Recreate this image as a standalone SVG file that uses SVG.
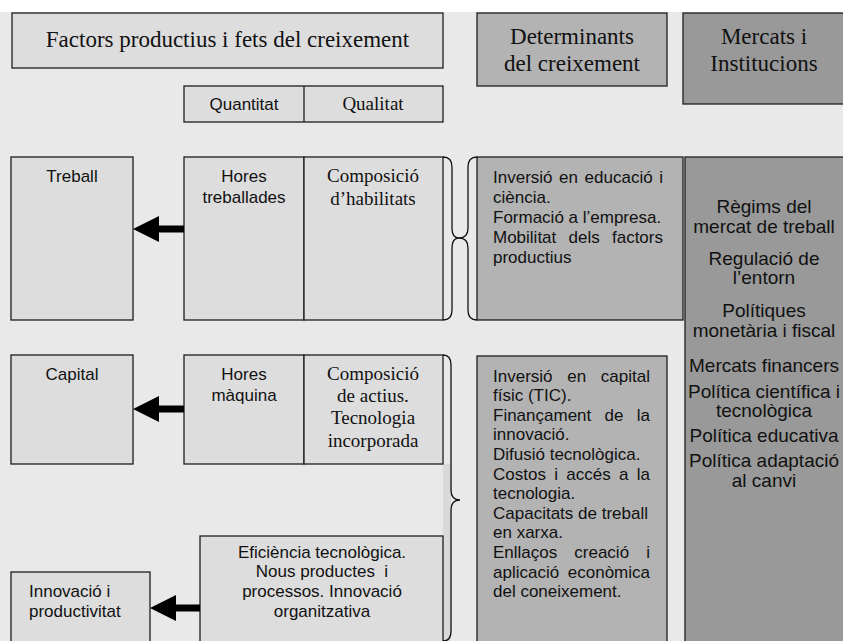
<svg xmlns="http://www.w3.org/2000/svg" width="843" height="641" viewBox="0 0 843 641">
<style>
.bg{fill:#e9e9e9}
.lt{fill:#dddddd;stroke:#1e1e1e;stroke-width:1.3}
.det{fill:#b3b3b3;stroke:#1e1e1e;stroke-width:1.3}
.mer{fill:#999999;stroke:#1e1e1e;stroke-width:1.3}
.serif{font-family:"Liberation Serif","Times New Roman",serif;fill:#111}
.sans{font-family:"Liberation Sans",Arial,sans-serif;font-size:17px;fill:#111}
.m{font-size:19px;text-anchor:middle}
.h{font-size:23px}
.s19{font-size:19px}
.brace{fill:none;stroke:#111;stroke-width:1.3}
.arrow{fill:#000}
</style>
<rect x="0" y="0" width="843" height="641" fill="#ffffff"/>
<rect class="bg" x="0" y="12" width="843" height="629"/>
<rect x="443" y="464" width="8" height="177" fill="#d9d9d9"/>

<g id="title">
<rect class="lt" x="12" y="13" width="431" height="55"/>
<text class="serif h" x="227.5" y="47" text-anchor="middle">Factors productius i fets del creixement</text>
</g>
<g id="determinants-header">
<rect class="det" x="477" y="13" width="190" height="73"/>
<text class="serif h" x="572" y="44" text-anchor="middle">Determinants</text>
<text class="serif h" x="572" y="71" text-anchor="middle">del creixement</text>
</g>
<g id="mercats-header">
<rect class="mer" x="683" y="13" width="162" height="91"/>
<text class="serif h" x="764" y="44" text-anchor="middle">Mercats i</text>
<text class="serif h" x="764" y="71" text-anchor="middle">Institucions</text>
</g>
<g id="quantitat-qualitat">
<rect class="lt" x="184" y="86" width="259" height="36"/>
<line x1="304" y1="86" x2="304" y2="122" stroke="#1e1e1e" stroke-width="1.3"/>
<text class="sans" x="244" y="110" text-anchor="middle">Quantitat</text>
<text class="serif s19" x="373" y="110" text-anchor="middle">Qualitat</text>
</g>

<g id="treball">
<rect class="lt" x="11" y="157" width="122" height="163"/>
<text class="sans" x="72" y="182" text-anchor="middle">Treball</text>
</g>
<g id="treball-components">
<rect class="lt" x="184" y="157" width="120" height="163"/>
<rect class="lt" x="304" y="157" width="139" height="163"/>
<text class="sans" x="244" y="182" text-anchor="middle">Hores</text>
<text class="sans" x="244" y="203" text-anchor="middle">treballades</text>
<text class="serif s19" x="373" y="182" text-anchor="middle">Composició</text>
<text class="serif s19" x="373" y="205" text-anchor="middle">d’habilitats</text>
</g>
<g id="determinants-treball">
<rect class="det" x="477" y="157" width="206" height="163"/>
<text class="sans" y="183"><tspan x="493">Inversió</tspan><tspan x="559.1">en</tspan><tspan x="584.6">educació</tspan></text>
<text class="sans" x="663" y="183" text-anchor="end">i</text>
<text class="sans" x="493" y="203">ciència.</text>
<text class="sans" x="493" y="223">Formació a l’empresa.</text>
<text class="sans" y="243"><tspan x="493">Mobilitat</tspan><tspan x="568.5">dels</tspan></text>
<text class="sans" x="663" y="243" text-anchor="end">factors</text>
<text class="sans" x="493" y="263">productius</text>
</g>
<g id="mercats-institucions">
<rect class="mer" x="685" y="157" width="160" height="486"/>
<text class="sans m" x="764" y="213">Règims del</text>
<text class="sans m" x="764" y="233">mercat de treball</text>
<text class="sans m" x="764" y="265">Regulació de</text>
<text class="sans m" x="764" y="284">l’entorn</text>
<text class="sans m" x="764" y="317">Polítiques</text>
<text class="sans m" x="764" y="337">monetària i fiscal</text>
<text class="sans m" x="764" y="372">Mercats financers</text>
<text class="sans m" x="764" y="398">Política científica i</text>
<text class="sans m" x="764" y="417">tecnològica</text>
<text class="sans m" x="764" y="442">Política educativa</text>
<text class="sans m" x="764" y="467">Política adaptació</text>
<text class="sans m" x="764" y="487">al canvi</text>
</g>

<g id="capital">
<rect class="lt" x="11" y="355" width="122" height="109"/>
<text class="sans" x="72" y="380" text-anchor="middle">Capital</text>
</g>
<g id="capital-components">
<rect class="lt" x="184" y="355" width="120" height="109"/>
<rect class="lt" x="304" y="355" width="139" height="109"/>
<text class="sans" x="244" y="380" text-anchor="middle">Hores</text>
<text class="sans" x="244" y="401" text-anchor="middle">màquina</text>
<text class="serif s19" x="373" y="380" text-anchor="middle">Composició</text>
<text class="serif s19" x="373" y="402" text-anchor="middle">de actius.</text>
<text class="serif s19" x="373" y="424" text-anchor="middle">Tecnologia</text>
<text class="serif s19" x="373" y="447" text-anchor="middle">incorporada</text>
</g>
<g id="determinants-capital">
<rect class="det" x="477" y="356" width="190" height="287"/>
<text class="sans" y="382"><tspan x="493">Inversió</tspan><tspan x="567.3">en</tspan></text>
<text class="sans" x="650" y="382" text-anchor="end">capital</text>
<text class="sans" x="493" y="401">físic (TIC).</text>
<text class="sans" y="421"><tspan x="493">Finançament</tspan><tspan x="604.6">de</tspan></text>
<text class="sans" x="650" y="421" text-anchor="end">la</text>
<text class="sans" x="493" y="440">innovació.</text>
<text class="sans" x="493" y="460">Difusió tecnològica.</text>
<text class="sans" y="480"><tspan x="493">Costos</tspan><tspan x="554.2">i</tspan><tspan x="566.3">accés</tspan><tspan x="619">a</tspan></text>
<text class="sans" x="650" y="480" text-anchor="end">la</text>
<text class="sans" x="493" y="499">tecnologia.</text>
<text class="sans" x="493" y="519">Capacitats de treball</text>
<text class="sans" x="493" y="538">en xarxa.</text>
<text class="sans" y="558"><tspan x="493">Enllaços</tspan><tspan x="574.3">creació</tspan></text>
<text class="sans" x="650" y="558" text-anchor="end">i</text>
<text class="sans" x="493" y="578">aplicació</text>
<text class="sans" x="650" y="578" text-anchor="end">econòmica</text>
<text class="sans" x="493" y="597">del coneixement.</text>
</g>

<g id="innovacio">
<rect class="lt" x="11" y="572" width="139" height="72"/>
<text class="sans" x="29" y="597">Innovació i</text>
<text class="sans" x="29" y="617">productivitat</text>
</g>
<g id="eficiencia">
<rect class="lt" x="200" y="536" width="243" height="107"/>
<text class="sans" x="322" y="558" text-anchor="middle">Eficiència tecnològica.</text>
<text class="sans" x="322" y="577" text-anchor="middle" xml:space="preserve">Nous productes  i</text>
<text class="sans" x="322" y="597" text-anchor="middle">processos. Innovació</text>
<text class="sans" x="322" y="617" text-anchor="middle">organitzativa</text>
</g>

<g id="connectors">
<path class="brace" d="M443,157 Q452,157 452,167 L452,228 Q452,238 459,238 Q452,238 452,248 L452,310 Q452,320 443,320"/>
<path class="brace" d="M477,157 Q468,157 468,167 L468,228 Q468,238 459,238 Q468,238 468,248 L468,310 Q468,320 477,320"/>
<path class="brace" d="M443,355 Q451,355 451,365 L451,490 Q451,500 460,500 Q451,500 451,510 L451,631 Q451,641 443,641"/>
<polygon class="arrow" points="133,229 159,216 159,225.5 184,225.5 184,232.5 159,232.5 159,242"/>
<polygon class="arrow" points="133,409 159,396 159,405.5 184,405.5 184,412.5 159,412.5 159,422"/>
<polygon class="arrow" points="150,608 176,595 176,604.5 200,604.5 200,611.5 176,611.5 176,621"/>
</g>
</svg>
